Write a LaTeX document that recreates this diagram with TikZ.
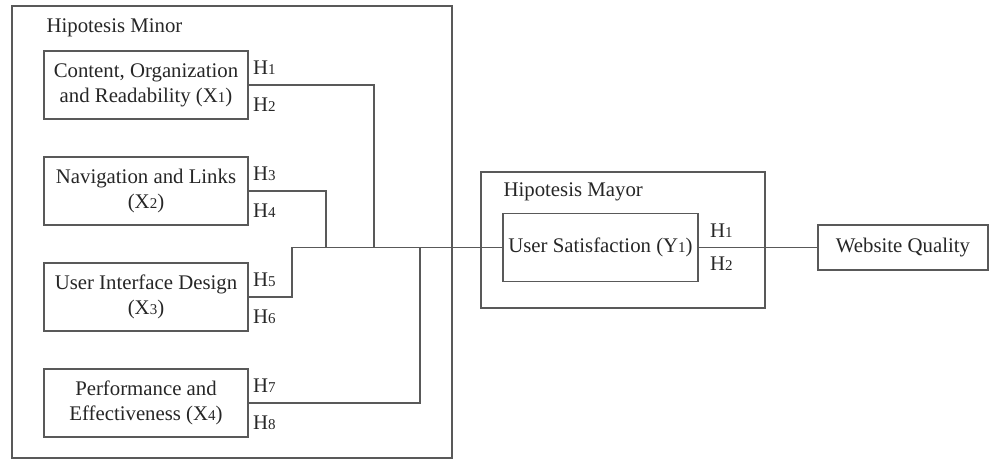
\documentclass[tikz,border=0pt]{standalone}
\usepackage{fontspec}
\setmainfont{Liberation Serif}
\usetikzlibrary{positioning}
\colorlet{colorLine}{black!65}
\colorlet{colorText}{black!85}
\newcommand{\dg}[1]{{\fontsize{7.5}{8}\selectfont #1}}

\begin{document}
\begin{tikzpicture}[x=0.5pt, y=-0.5pt, line width=0.6pt, text=colorText,
  font=\fontsize{10.4}{12.6}\selectfont,
  var/.style={draw=colorLine, minimum width=102pt, minimum height=34pt, align=center, inner sep=1pt},
  hup/.style={inner sep=0pt, above right=5pt and 2pt of #1},
  hdown/.style={inner sep=0pt, below right=6pt and 2pt of #1},
  link/.style={draw=colorLine}]
\useasboundingbox (0,0) rectangle (989,459);
% hipotesis minor
\draw[colorLine] (12,6) rectangle (452,458);
\node[anchor=west, inner sep=0pt] (minor) at (46,28) {Hipotesis Minor};
\node[var] (x1) at (146,85) {Content, Organization\\and Readability (X\dg{1})};
\node[var] (x2) at (146,191) {Navigation and Links\\(X\dg{2})};
\node[var] (x3) at (146,297) {User Interface Design\\(X\dg{3})};
\node[var] (x4) at (146,403) {Performance and\\Effectiveness (X\dg{4})};
\node[hup=x1.east] (h1) {H\dg{1}};
\node[hdown=x1.east] (h2) {H\dg{2}};
\node[hup=x2.east] (h3) {H\dg{3}};
\node[hdown=x2.east] (h4) {H\dg{4}};
\node[hup=x3.east] (h5) {H\dg{5}};
\node[hdown=x3.east] (h6) {H\dg{6}};
\node[hup=x4.east] (h7) {H\dg{7}};
\node[hdown=x4.east] (h8) {H\dg{8}};
% hipotesis mayor
\draw[colorLine] (481,172) rectangle (765,308);
\node[anchor=west, inner sep=0pt] (mayor) at (503,192) {Hipotesis Mayor};
\node[var, minimum width=97.5pt] (y1) at (600.5,247.5) {User Satisfaction (Y\dg{1})};
\node[inner sep=0pt, above right=4.5pt and 5.5pt of y1.east] (hy1) {H\dg{1}};
\node[inner sep=0pt, below right=4.5pt and 5.5pt of y1.east] (hy2) {H\dg{2}};
\node[var, minimum width=85pt, minimum height=22.5pt] (wq) at (903,247.5) {Website Quality};
% connectors
\coordinate (j1) at (374,247.5);
\coordinate (j2) at (326,247.5);
\coordinate (j3) at (292,247.5);
\coordinate (j4) at (420,247.5);
\draw[link] (x1.east) -| (j1);
\draw[link] (x2.east) -| (j2);
\draw[link] (x3.east) -| (j3);
\draw[link] (x4.east) -| (j4);
\draw[link] (j3) -- (y1.west);
\draw[link] (y1.east) -- (wq.west);
\end{tikzpicture}
\end{document}
